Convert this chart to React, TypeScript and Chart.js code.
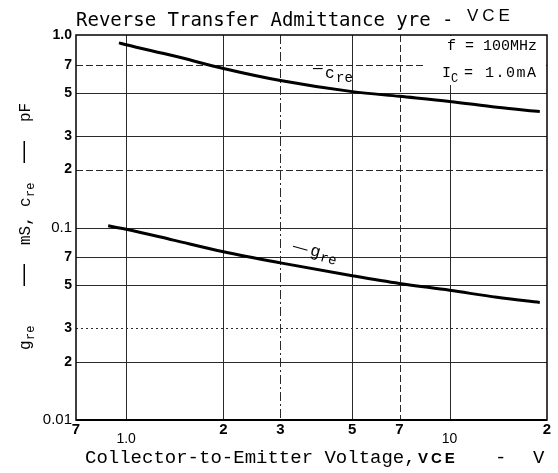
import React, { useEffect, useRef } from 'react';
import { Chart, registerables } from 'chart.js';

Chart.register(...registerables);

// ---- data ----
const vceC = [0.95, 1, 1.4, 2, 3, 5, 7, 10, 14, 19];
const creValues = [0.91, 0.89, 0.78, 0.67, 0.58, 0.508, 0.48, 0.452, 0.421, 0.4];
const vceG = [0.88, 1, 1.4, 2, 3, 5, 7, 10, 14, 19];
const greValues = [0.102, 0.098, 0.086, 0.0748, 0.0655, 0.0562, 0.0512, 0.0472, 0.0434, 0.0408];

const xTickValues = [0.7, 1, 2, 3, 5, 7, 10, 20];
const xTickLabels = ['7', '1.0', '2', '3', '5', '7', '10', '2'];
const xTickLow = [false, true, false, false, false, false, true, false];
const yTickValues = [0.01, 0.02, 0.03, 0.05, 0.07, 0.1, 0.2, 0.3, 0.5, 0.7, 1];
const yTickLabels = ['0.01', '2', '3', '5', '7', '0.1', '2', '3', '5', '7', '1.0'];

const xGridValues = [1, 2, 3, 5, 7, 10];
const xGridStyles = ['solid', 'solid', 'dashdot', 'solid', 'dashed', 'solid'];
const yGridValues = [0.02, 0.03, 0.05, 0.07, 0.1, 0.2, 0.3, 0.5, 0.7];
const yGridStyles = ['solid', 'dotted', 'solid', 'solid', 'solid', 'dashed', 'solid', 'solid', 'dashed'];

const DASH: Record<string, number[]> = {
  solid: [],
  dashed: [7, 3],
  dotted: [2, 3],
  dashdot: [9, 3, 2, 3],
};

const MONO = '"Liberation Mono", "DejaVu Sans Mono", monospace';
const SANS = '"Liberation Sans", Arial, sans-serif';

type Seg = { t: string; f: string; x: number; dy?: number; ls?: number };

function drawSegs(ctx: CanvasRenderingContext2D, segs: Seg[], baseY: number) {
  for (const s of segs) {
    ctx.font = s.f;
    (ctx as any).letterSpacing = (s.ls || 0) + 'px';
    ctx.fillText(s.t, s.x, baseY + (s.dy || 0));
  }
  (ctx as any).letterSpacing = '0px';
}

const decor = {
  id: 'decor',
  beforeDatasetsDraw(chart: any) {
    const { ctx, chartArea: a, scales } = chart;
    const x = scales.x;
    const y = scales.y;
    ctx.save();
    ctx.strokeStyle = '#2a2a2a';
    ctx.lineWidth = 1;
    xGridValues.forEach((v, i) => {
      const px = Math.round(x.getPixelForValue(v)) + 0.5;
      ctx.setLineDash(DASH[xGridStyles[i]]);
      ctx.beginPath();
      ctx.moveTo(px, a.top);
      ctx.lineTo(px, a.bottom);
      ctx.stroke();
    });
    yGridValues.forEach((v, i) => {
      const py = Math.round(y.getPixelForValue(v)) + 0.5;
      ctx.setLineDash(DASH[yGridStyles[i]]);
      ctx.beginPath();
      ctx.moveTo(a.left, py);
      ctx.lineTo(a.right, py);
      ctx.stroke();
    });
    ctx.setLineDash([]);
    // white box behind the condition text
    ctx.fillStyle = '#fff';
    ctx.fillRect(a.right - 124, a.top + 1, 123, 49);
    ctx.restore();
  },
  afterDraw(chart: any) {
    const { ctx, chartArea: a, scales } = chart;
    const x = scales.x;
    ctx.save();
    // plot frame
    ctx.strokeStyle = '#000';
    ctx.lineWidth = 1.5;
    ctx.strokeRect(a.left, a.top, a.right - a.left, a.bottom - a.top);
    ctx.lineWidth = 2;
    ctx.beginPath();
    ctx.moveTo(a.left, a.bottom);
    ctx.lineTo(a.right, a.bottom);
    ctx.stroke();

    ctx.fillStyle = '#000';

    // x tick labels (staggered as in the reference)
    ctx.textAlign = 'center';
    ctx.textBaseline = 'top';
    xTickValues.forEach((v, i) => {
      const px = x.getPixelForValue(v);
      if (xTickLow[i]) {
        ctx.font = '14px ' + SANS;
        ctx.fillText(xTickLabels[i], px, a.bottom + 12);
      } else {
        ctx.font = 'bold 15px ' + SANS;
        ctx.fillText(xTickLabels[i], px, a.bottom + 2);
      }
    });
    ctx.textAlign = 'left';
    ctx.textBaseline = 'alphabetic';

    // title
    drawSegs(ctx, [
      { t: 'Reverse Transfer Admittance yre - ', f: '19px "DejaVu Sans Mono", monospace', x: 76 },
    ], 26);
    drawSegs(ctx, [{ t: 'VCE', f: '17px ' + SANS, x: 467, ls: 4 }], 21);

    // x axis title
    drawSegs(ctx, [
      { t: 'Collector-to-Emitter Voltage,', f: '19px ' + MONO, x: 85 },
      { t: 'VCE', f: 'bold 15px ' + SANS, x: 418, ls: 3 },
      { t: '-', f: '19px ' + MONO, x: 495 },
      { t: 'V', f: '19px ' + MONO, x: 533 },
    ], 463);

    // y axis title (rotated)
    ctx.save();
    ctx.translate(30, 350);
    ctx.rotate(-Math.PI / 2);
    drawSegs(ctx, [
      { t: 'g', f: '16px ' + MONO, x: 0 },
      { t: 're', f: '12px ' + MONO, x: 10, dy: 4 },
      { t: '—', f: '22px ' + SANS, x: 64 },
      { t: 'mS,', f: '16px ' + MONO, x: 105 },
      { t: 'c', f: '16px ' + MONO, x: 143 },
      { t: 're', f: '12px ' + MONO, x: 153, dy: 4 },
      { t: '—', f: '22px ' + SANS, x: 187 },
      { t: 'pF', f: '16px ' + MONO, x: 228 },
    ], 0);
    ctx.restore();

    // conditions
    drawSegs(ctx, [{ t: 'f = 100MHz', f: '15px ' + MONO, x: 447 }], 50);
    drawSegs(ctx, [
      { t: 'I', f: '15px ' + MONO, x: 442 },
      { t: 'C', f: '12px ' + MONO, x: 451, dy: 5 },
      { t: '= 1.0mA', f: '15px ' + MONO, x: 464, ls: 1.5 },
    ], 77);

    // curve labels
    drawSegs(ctx, [{ t: '—', f: '16px ' + MONO, x: 313 }], 73);
    drawSegs(ctx, [
      { t: 'c', f: '16px ' + MONO, x: 325 },
      { t: 're', f: '14px ' + MONO, x: 336, dy: 4 },
    ], 78);

    ctx.save();
    ctx.translate(292, 250);
    ctx.rotate(0.27);
    drawSegs(ctx, [
      { t: '—', f: '15px ' + SANS, x: 0 },
      { t: 'g', f: '17px ' + MONO, x: 18 },
      { t: 're', f: '14px ' + MONO, x: 29, dy: 3 },
    ], 0);
    ctx.restore();

    ctx.restore();
  },
};

export default function App() {
  const ref = useRef<HTMLCanvasElement | null>(null);

  useEffect(() => {
    if (!ref.current) return;
    const chart = new Chart(ref.current, {
      type: 'line',
      data: {
        datasets: [
          {
            label: '-cre',
            data: vceC.map((v, i) => ({ x: v, y: creValues[i] })),
            borderColor: '#000',
            borderWidth: 3,
            pointRadius: 0,
            fill: false,
            cubicInterpolationMode: 'monotone',
          },
          {
            label: '-gre',
            data: vceG.map((v, i) => ({ x: v, y: greValues[i] })),
            borderColor: '#000',
            borderWidth: 3,
            pointRadius: 0,
            fill: false,
            cubicInterpolationMode: 'monotone',
          },
        ],
      },
      options: {
        animation: false,
        responsive: false,
        devicePixelRatio: 1,
        layout: { padding: { top: 35, right: 11, left: 0, bottom: 0 } },
        plugins: {
          legend: { display: false },
          tooltip: { enabled: false },
          title: { display: false },
        },
        scales: {
          x: {
            type: 'logarithmic',
            min: 0.7,
            max: 20,
            grid: { display: false },
            border: { display: false },
            ticks: { display: false },
            afterBuildTicks: (s: any) => {
              s.ticks = xTickValues.map((v) => ({ value: v }));
            },
            afterFit: (s: any) => {
              s.height = 53;
            },
          },
          y: {
            type: 'logarithmic',
            min: 0.01,
            max: 1,
            grid: { display: false, drawTicks: false },
            border: { display: false },
            ticks: {
              padding: 4,
              color: '#000',
              autoSkip: false,
              font: (c: any) => {
                const v = c.tick ? c.tick.value : 0;
                const thin = Math.abs(v - 0.1) < 1e-9 || Math.abs(v - 0.01) < 1e-9;
                return { family: SANS, size: thin ? 15 : 14, weight: thin ? 'normal' : 'bold' };
              },
              callback: (v: any) => {
                const i = yTickValues.findIndex((t) => Math.abs(t - Number(v)) < t * 1e-6);
                return i >= 0 ? yTickLabels[i] : '';
              },
            },
            afterBuildTicks: (s: any) => {
              s.ticks = yTickValues.map((v) => ({ value: v }));
            },
            afterFit: (s: any) => {
              s.width = 76;
            },
          },
        },
      } as any,
      plugins: [decor],
    });
    return () => chart.destroy();
  }, []);

  return (
    <div style={{ position: 'absolute', left: 0, top: 0, width: 558, height: 473, background: '#fff' }}>
      <canvas ref={ref} width={558} height={473} />
    </div>
  );
}
